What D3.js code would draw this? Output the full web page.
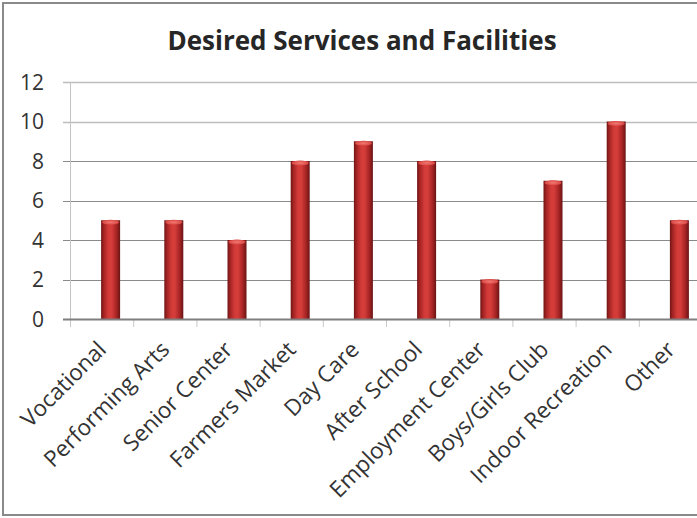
<!DOCTYPE html>
<html>
<head>
<meta charset="utf-8">
<script src="https://cdn.jsdelivr.net/npm/d3@7"></script>
<style>
  body { margin: 0; background: #fff; }
  svg { display: block; }
  text { font-family: "Open Sans", sans-serif; fill: #333; }
</style>
</head>
<body>
<div id="chart"></div>
<script>
// Survey responses: desired services and facilities
const categories = ["Vocational", "Performing Arts", "Senior Center", "Farmers Market", "Day Care",
                    "After School", "Employment Center", "Boys/Girls Club", "Indoor Recreation", "Other"];
const counts = [5, 5, 4, 8, 9, 8, 2, 7, 10, 5];
const yTicks = [0, 2, 4, 6, 8, 10, 12];
const chartTitle = "Desired Services and Facilities";

const W = 697, H = 518;
const plot = { left: 70, right: 702, top: 82, bottom: 319 };
const barWidth = 19, barShift = 9;

const svg = d3.select("#chart").append("svg").attr("width", W).attr("height", H);

const x = d3.scaleBand().domain(categories).range([plot.left, plot.right]).padding(0);
const y = d3.scaleLinear().domain([0, 12]).range([plot.bottom, plot.top]);

// cylinder shading for the bars
const defs = svg.append("defs");
const grad = defs.append("linearGradient").attr("id", "barShade")
  .attr("x1", "0%").attr("x2", "100%").attr("y1", "0%").attr("y2", "0%");
[[0, "#6f1515"], [0.14, "#a32323"], [0.38, "#d23b38"], [0.55, "#d53d3a"], [0.8, "#a82525"], [1, "#6a1414"]]
  .forEach(([o, c]) => grad.append("stop").attr("offset", o).attr("stop-color", c));
const capGrad = defs.append("radialGradient").attr("id", "capShade");
[[0, "#f27a72"], [1, "#d84642"]].forEach(([o, c]) => capGrad.append("stop").attr("offset", o).attr("stop-color", c));

// chart frame
svg.append("rect").attr("x", 3).attr("y", 3).attr("width", W + 10).attr("height", H - 6)
  .attr("fill", "none").attr("stroke", "#8a8a8a").attr("stroke-width", 2);

// title
svg.append("text").attr("x", 362).attr("y", 50).attr("text-anchor", "middle")
  .attr("font-size", 26).attr("font-weight", 700).style("fill", "#262626").text(chartTitle);

// horizontal gridlines with ticks into the label area
const grid = svg.append("g");
grid.selectAll("line").data(yTicks.filter(t => t > 0)).join("line")
  .attr("x1", plot.left - 7).attr("x2", W + 10)
  .attr("y1", d => Math.round(y(d)) + 0.5).attr("y2", d => Math.round(y(d)) + 0.5)
  .attr("stroke", d => d >= 10 ? "#bdbdbd" : "#8a8a8a").attr("stroke-width", d => d >= 10 ? 1.5 : 1);

// y axis line
svg.append("line").attr("x1", plot.left + 0.5).attr("x2", plot.left + 0.5)
  .attr("y1", plot.top).attr("y2", plot.bottom).attr("stroke", "#c4c4c4");

// y tick labels
svg.append("g").selectAll("text").data(yTicks).join("text")
  .attr("x", 44).attr("y", d => y(d)).attr("dy", "0.36em").attr("text-anchor", "end")
  .attr("font-size", 21).text(d => d);

// category separator ticks below the baseline
const edges = categories.map(c => x(c)).concat([plot.right]);
svg.append("g").selectAll("line").data(edges).join("line")
  .attr("x1", d => d + 0.5).attr("x2", d => d + 0.5)
  .attr("y1", plot.bottom).attr("y2", plot.bottom + 8)
  .attr("stroke", "#c8c8c8");

// bars
const bars = svg.append("g");
bars.selectAll("rect").data(categories).join("rect")
  .attr("x", (c) => x(c) + x.bandwidth() / 2 + barShift - barWidth / 2)
  .attr("y", (c, i) => y(counts[i]))
  .attr("width", barWidth)
  .attr("height", (c, i) => y(0) - y(counts[i]))
  .attr("fill", "url(#barShade)");
bars.selectAll("ellipse").data(categories).join("ellipse")
  .attr("cx", (c) => x(c) + x.bandwidth() / 2 + barShift)
  .attr("cy", (c, i) => y(counts[i]) + 2)
  .attr("rx", barWidth / 2 - 1).attr("ry", 2.5)
  .attr("fill", "url(#capShade)");

// x baseline
svg.append("line").attr("x1", plot.left - 7).attr("x2", W + 10)
  .attr("y1", plot.bottom + 0.5).attr("y2", plot.bottom + 0.5)
  .attr("stroke", "#7f7f7f").attr("stroke-width", 2);

// rotated category labels
svg.append("g").selectAll("text").data(categories).join("text")
  .attr("transform", c => `translate(${x(c) + x.bandwidth() / 2 + 6},351) rotate(-45)`)
  .attr("text-anchor", "end").attr("font-size", 22.5).text(c => c);
</script>
</body>
</html>
